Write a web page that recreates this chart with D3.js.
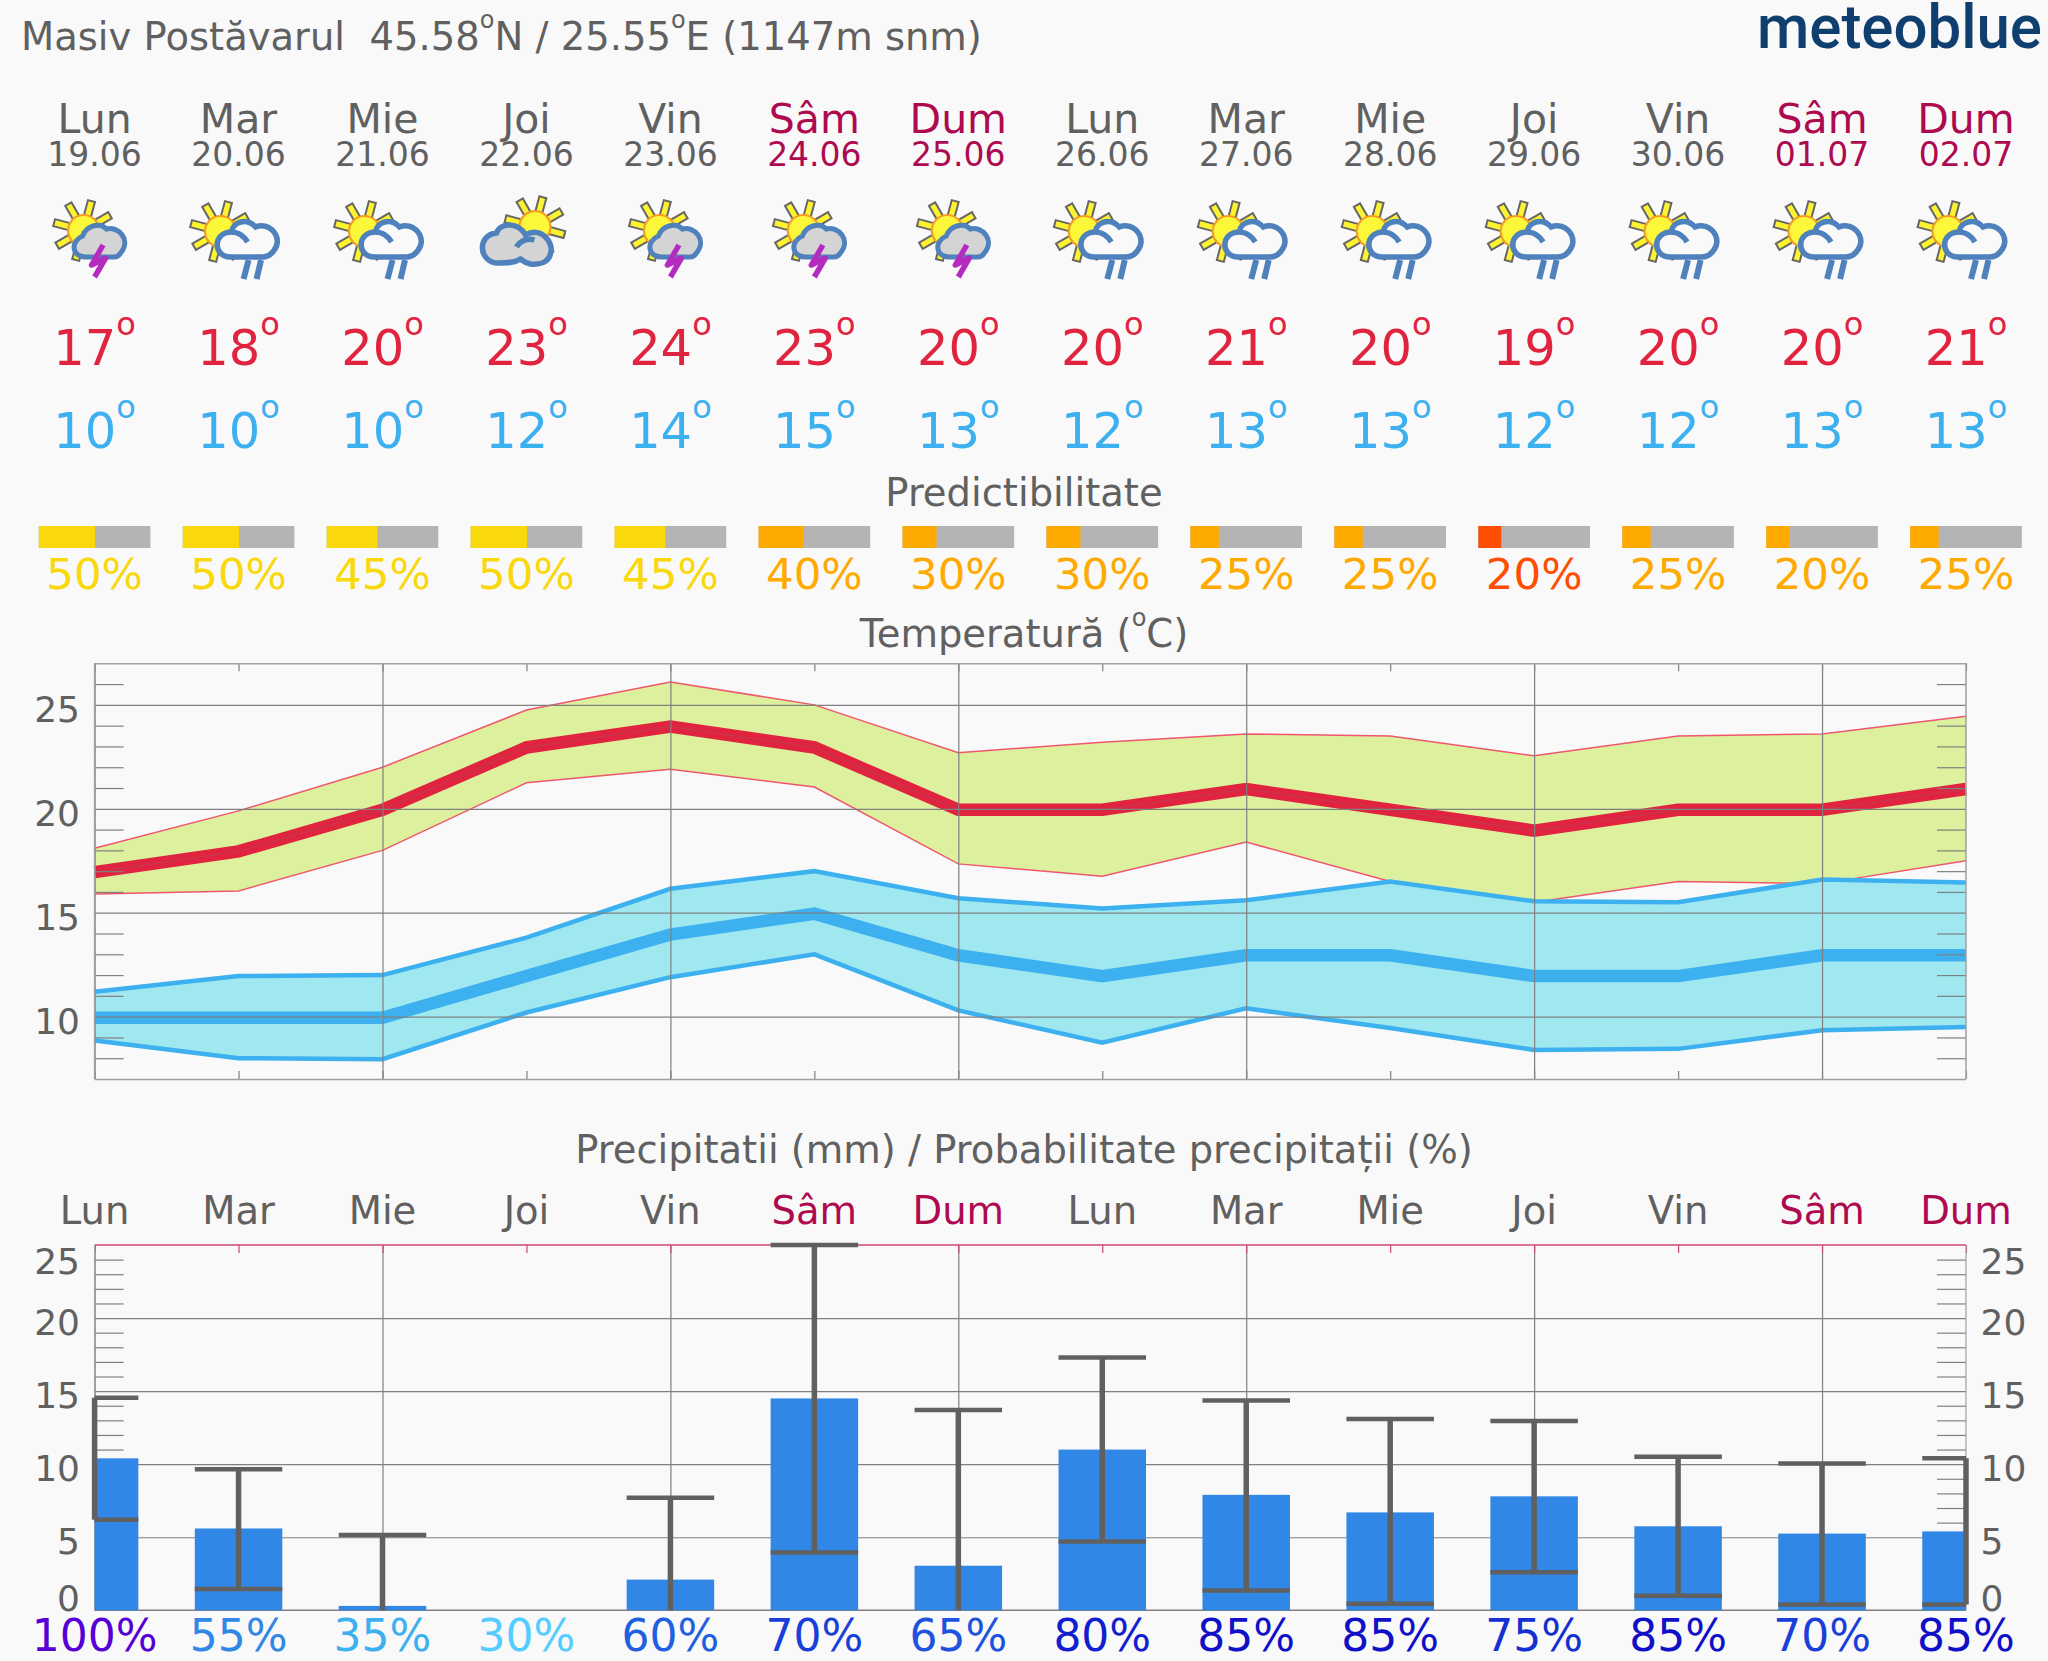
<!DOCTYPE html>
<html>
<head>
<meta charset="utf-8">
<script src="https://cdnjs.cloudflare.com/ajax/libs/d3/7.8.5/d3.min.js"></script>
<style>
  html, body { margin: 0; padding: 0; background: #f9f9f9; }
  svg { display: block; }
  text { font-family: 'DejaVu Sans', sans-serif; fill: #606060; white-space: pre; }
  .domain { display: none; }
</style>
</head>
<body>
<div id="chart"></div>
<script>
const width = 2048
const height = 1661

const days = ['Lun', 'Mar', 'Mie', 'Joi', 'Vin', 'Sâm', 'Dum', 'Lun', 'Mar', 'Mie', 'Joi', 'Vin', 'Sâm', 'Dum']
const dates = ['19.06', '20.06', '21.06', '22.06', '23.06', '24.06', '25.06', '26.06', '27.06', '28.06', '29.06', '30.06', '01.07', '02.07']
const icons = ['storm', 'rain', 'rain', 'cloudy', 'storm', 'storm', 'storm', 'rain', 'rain', 'rain', 'rain', 'rain', 'rain', 'rain']

const tempMax = [17, 18, 20, 23, 24, 23, 20, 20, 21, 20, 19, 20, 20, 21]
const tempMaxHigh = [18.1, 19.9, 22, 24.75, 26.1, 25, 22.7, 23.2, 23.6, 23.5, 22.55, 23.5, 23.6, 24.45]
const tempMaxLow = [15.9, 16.05, 18, 21.25, 21.9, 21.05, 17.35, 16.75, 18.4, 16.5, 15.5, 16.5, 16.4, 17.5]
const tempMin = [10, 10, 10, 12, 14, 15, 13, 12, 13, 13, 12, 12, 13, 13]
const tempMinHigh = [11.2, 11.95, 12, 13.8, 16.15, 17, 15.7, 15.2, 15.6, 16.5, 15.55, 15.5, 16.6, 16.45]
const tempMinLow = [8.85, 8, 7.95, 10.2, 11.9, 13, 10.3, 8.75, 10.4, 9.45, 8.4, 8.45, 9.35, 9.5]

const predict = [50, 50, 45, 50, 45, 40, 30, 30, 25, 25, 20, 25, 20, 25]
const predictColors = ['#f9d80c', '#f9d80c', '#f9d80c', '#f9d80c', '#f9d80c', '#ffaa00', '#ffaa00', '#ffaa00', '#ffaa00', '#ffaa00', '#ff4e00', '#ffaa00', '#ffaa00', '#ffaa00']

const rain = [10.4, 5.6, 0.3, 0, 2.1, 14.5, 3.05, 11, 7.9, 6.7, 7.8, 5.75, 5.25, 5.4]
const rainHigh = [14.55, 9.65, 5.15, null, 7.7, 25, 13.7, 17.3, 14.35, 13.1, 12.95, 10.5, 10.05, 10.4]
const rainLow = [6.2, 1.45, 0, null, 0, 3.95, 0, 4.7, 1.35, 0.45, 2.6, 1, 0.4, 0.4]
const rainProb = [100, 55, 35, 30, 60, 70, 65, 80, 85, 85, 75, 85, 70, 85]
const rainProbColors = ['#5500d5', '#3187e6', '#3cb0f0', '#55ccff', '#1f5fe0', '#1a3fd8', '#2052e0', '#1020d0', '#1010c8', '#1010c8', '#1530d0', '#1010c8', '#1a3fd8', '#1010c8']

const tempTicks = [10, 15, 20, 25]
const tempMinor = [8, 9, 11, 12, 13, 14, 16, 17, 18, 19, 21, 22, 23, 24, 26]
const rainTicks = [0, 5, 10, 15, 20, 25]
const rainGrid = [5, 10, 15, 20]
const rainMinor = [1, 2, 3, 4, 6, 7, 8, 9, 11, 12, 13, 14, 16, 17, 18, 19, 21, 22, 23, 24]

const grey = '#606060'
const weekend = '#ae0a4f'
const red = '#e0233f'
const blue = '#3db0f0'
const dayColor = i => (i === 5 || i === 6 || i === 12 || i === 13) ? weekend : grey

const left = 94.6
const right = 1966
const x = d3.scaleLinear().domain([0, 13]).range([left, right])
const indexes = days.map((d, i) => i)

const svg = d3.select('#chart')
  .append('svg')
  .attr('width', width)
  .attr('height', height)

svg.append('rect').attr('width', width).attr('height', height).attr('fill', '#f9f9f9')

// text with the raised small "o" they use as a degree sign
function degreeText(g, parts, size, oSize, raise) {
  parts.forEach((p, i) => {
    g.append('tspan').attr('font-size', size).attr('dy', i === 0 ? 0 : raise).text(p)
    if (i < parts.length - 1) {
      g.append('tspan').attr('font-size', oSize).attr('dy', -raise).text('o')
    }
  })
  return g
}

// header
degreeText(svg.append('text').attr('x', 21).attr('y', 50).attr('fill', grey),
  ['Masiv Postăvarul  45.58', 'N / 25.55', 'E (1147m snm)'], 38.5, 24, 22)

svg.append('text')
  .attr('x', 1757).attr('y', 47.5)
  .attr('textLength', 285).attr('lengthAdjust', 'spacingAndGlyphs')
  .style('font-family', 'Roboto').style('font-weight', 500).style('font-size', '62px')
  .style('fill', '#0f3f6f')
  .text('meteoblue')

function rowText(values, y, size, color) {
  svg.append('g').selectAll('text')
    .data(values)
    .enter().append('text')
    .attr('x', (d, i) => x(i))
    .attr('y', y)
    .attr('text-anchor', 'middle')
    .attr('font-size', size)
    .style('fill', color)
    .text(d => d)
}

rowText(days, 133, 41, (d, i) => dayColor(i))
rowText(dates, 166, 33, (d, i) => dayColor(i))

// icons, drawn around the day centre
const sunRays = [-165, -120, -75, -30, 15, 60, 105, 150]
const iconDefs = {
  rain: {
    sun: [-18, 231.5],
    cloud: 'M-8,257 C-26,257 -26,232 -7,232 C-6,222 8,217 17,227 C31,221 46,238 35,251 C32,255 28,257 24,257 Z',
    cloudFill: '#f9f9f9',
    hook: 'M-7,232 C0,232 6,237 9,242',
    width: 5.5
  },
  storm: {
    sun: [-11, 230.5],
    cloud: 'M-8,257 C-24,257 -24,241 -12,236 C-8,225 6,222 12,229 C24,226 37,240 26,253 C24,256 22,257 20,257 Z',
    cloudFill: '#d4d4d4',
    width: 5
  },
  cloudy: {
    sun: [8.5, 226.7],
    cloud: 'M-28,263 C-48,263 -50,235 -30,233 C-26,222 -8,222 -1,235 C14,226 28,242 24,254 C22,262 14,265 4,264 C-2,263 -4,260 -6,259 C-12,263 -20,263 -28,263 Z',
    cloudFill: '#d4d4d4',
    hook: 'M-10,247 C-6,240 2,238 8,240',
    width: 5.5
  }
}

const iconG = svg.append('g').selectAll('g')
  .data(icons)
  .enter().append('g')
  .attr('transform', (d, i) => `translate(${x(i)},0)`)

iconG.each(function(type) {
  const g = d3.select(this)
  const def = iconDefs[type]
  sunRays.forEach(a => {
    g.append('rect')
      .attr('x', 14).attr('y', -3.6).attr('width', 16.5).attr('height', 7.2)
      .attr('fill', '#fdf22f').attr('stroke', '#666').attr('stroke-width', 2)
      .attr('transform', `translate(${def.sun[0]},${def.sun[1]}) rotate(${a})`)
  })
  g.append('circle')
    .attr('cx', def.sun[0]).attr('cy', def.sun[1]).attr('r', 15.5)
    .attr('fill', '#fbf83a').attr('stroke', '#f59e25').attr('stroke-width', 2.2)
  g.append('path')
    .attr('d', def.cloud)
    .attr('fill', def.cloudFill).attr('stroke', '#4f82bd').attr('stroke-width', def.width)
  if (def.hook) {
    g.append('path').attr('d', def.hook).attr('fill', 'none')
      .attr('stroke', '#4f82bd').attr('stroke-width', def.width)
  }
  if (type === 'rain') {
    g.append('path').attr('d', 'M10,260 L5,279 M22.5,260 L18,279')
      .attr('fill', 'none').attr('stroke', '#4f82bd').attr('stroke-width', 6)
  }
  if (type === 'storm') {
    g.append('path').attr('d', 'M8.5,245 L-3,265 L11,258 L0,277')
      .attr('fill', 'none').attr('stroke', '#b52bc0').attr('stroke-width', 5.5)
      .attr('stroke-linejoin', 'round')
  }
})

// max / min numbers
function tempRow(values, y, color) {
  indexes.forEach(i => {
    const t = svg.append('text').attr('x', x(i)).attr('y', y)
      .attr('text-anchor', 'middle').style('fill', color)
    degreeText(t, [values[i], ''], 49.5, 32, 30)
  })
}
tempRow(tempMax, 365, red)
tempRow(tempMin, 448, blue)

// predictability
svg.append('text').attr('x', 1024).attr('y', 506).attr('text-anchor', 'middle')
  .attr('font-size', 38.5).text('Predictibilitate')

const barW = 111.6
const pctX = d3.scaleLinear().domain([0, 100]).range([0, barW])

svg.append('g').selectAll('rect')
  .data(predict)
  .enter().append('rect')
  .attr('x', (d, i) => x(i) - barW / 2)
  .attr('y', 526).attr('width', barW).attr('height', 22)
  .attr('fill', '#b4b4b4')

svg.append('g').selectAll('rect')
  .data(predict)
  .enter().append('rect')
  .attr('x', (d, i) => x(i) - barW / 2)
  .attr('y', 526).attr('width', d => pctX(d) + 0.5).attr('height', 22)
  .attr('fill', (d, i) => predictColors[i])

rowText(predict.map(d => d + '%'), 589, 43.5, (d, i) => predictColors[i])

// temperature chart
const tempTop = 663.3
const tempBottom = 1079
const yT = d3.scaleLinear().domain([7, 27]).range([tempBottom, tempTop])

degreeText(svg.append('text').attr('x', 1024).attr('y', 647).attr('text-anchor', 'middle'),
  ['Temperatură (', 'C)'], 38.5, 24, 21)

const area = d3.area().x((d, i) => x(i))
const line = d3.line().x((d, i) => x(i)).y(d => yT(d))

const band = (high, low, fill, stroke, sw) => {
  const pairs = high.map((h, i) => [h, low[i]])
  svg.append('path').datum(pairs)
    .attr('d', area.y0(d => yT(d[1])).y1(d => yT(d[0])))
    .attr('fill', fill)
  ;[high, low].forEach(s => {
    svg.append('path').datum(s).attr('d', line)
      .attr('fill', 'none').attr('stroke', stroke).attr('stroke-width', sw)
  })
}

band(tempMaxHigh, tempMaxLow, '#dcf09e', '#f0566c', 1.5)
band(tempMinHigh, tempMinLow, '#9fe8f0', blue, 4.5)

svg.append('path').datum(tempMax).attr('d', line)
  .attr('transform', 'translate(0,1)')
  .attr('fill', 'none').attr('stroke', red).attr('stroke-width', 12.5)
svg.append('path').datum(tempMin).attr('d', line)
  .attr('transform', 'translate(0,1)')
  .attr('fill', 'none').attr('stroke', blue).attr('stroke-width', 12.5)
svg.append('path').datum(tempMax).attr('d', line)
  .attr('transform', 'translate(0,1)')
  .attr('fill', 'none').attr('stroke', '#777').attr('stroke-opacity', 0.3).attr('stroke-width', 1)

function frameAxes(yScale, top, bottom, major, minor, tickColor) {
  const g = svg.append('g')
  const plotW = right - left
  const plotH = bottom - top

  g.append('g').attr('transform', `translate(${left},0)`)
    .call(d3.axisLeft(yScale).tickValues(major).tickSize(-plotW).tickFormat(''))
  g.append('g').attr('transform', `translate(${left},0)`)
    .call(d3.axisLeft(yScale).tickValues(minor).tickSize(-29).tickFormat(''))
  g.append('g').attr('transform', `translate(${right},0)`)
    .call(d3.axisRight(yScale).tickValues(minor).tickSize(-29).tickFormat(''))
  g.append('g').attr('transform', `translate(0,${bottom})`)
    .call(d3.axisBottom(x).tickValues(indexes.filter(i => i % 2 === 0)).tickSize(-plotH).tickFormat(''))
  g.append('g').attr('class', 'topTicks').attr('transform', `translate(0,${top})`)
    .call(d3.axisTop(x).tickValues(indexes).tickSize(-8).tickFormat(''))
    .selectAll('line').attr('stroke', tickColor)
  g.selectAll('line').filter(function() {
    return this.getAttribute('stroke') === 'currentColor'
  }).attr('stroke', '#808080').attr('stroke-width', 1.2)
  g.select('.topTicks').selectAll('line').attr('stroke-width', 1.2)
  return g
}

const tempFrame = frameAxes(yT, tempTop, tempBottom, tempTicks, tempMinor, '#808080')
tempFrame.append('g').attr('transform', `translate(0,${tempBottom})`)
  .call(d3.axisBottom(x).tickValues(indexes).tickSize(-8).tickFormat(''))
  .selectAll('line').attr('stroke', '#808080').attr('stroke-width', 1.2)
tempFrame.append('g').attr('transform', `translate(${left},0)`)
  .call(d3.axisLeft(yT).tickValues([7, 27]).tickSize(left - right).tickFormat(''))
  .selectAll('line').attr('stroke', '#a0a0a0').attr('stroke-width', 1.5)
;[left, right].forEach(px => {
  tempFrame.append('line').attr('x1', px).attr('x2', px)
    .attr('y1', tempTop).attr('y2', tempBottom)
    .attr('stroke', '#a0a0a0').attr('stroke-width', 1.5)
})

svg.append('g').attr('transform', `translate(${left},0)`)
  .call(d3.axisLeft(yT).tickValues(tempTicks).tickSize(0).tickPadding(14.6))
  .selectAll('text')
  .attr('dy', 0).attr('y', 16.7).attr('font-size', 36).attr('font-family', null)
  .style('font-family', "'DejaVu Sans'").style('fill', grey)

// precipitation chart
const rainTop = 1245
const rainBottom = 1610.3
const yR = d3.scaleLinear().domain([0, 25]).range([rainBottom, rainTop])

svg.append('text').attr('x', 1024).attr('y', 1163).attr('text-anchor', 'middle')
  .attr('font-size', 38.5).text('Precipitatii (mm) / Probabilitate precipitații (%)')

rowText(days, 1223.5, 38.5, (d, i) => dayColor(i))

frameAxes(yR, rainTop, rainBottom, rainGrid, rainMinor, '#d0457a')

svg.append('line').attr('x1', left).attr('x2', right).attr('y1', rainTop).attr('y2', rainTop)
  .attr('stroke', '#d0457a').attr('stroke-width', 1.5)
svg.append('line').attr('x1', left).attr('x2', right).attr('y1', rainBottom).attr('y2', rainBottom)
  .attr('stroke', '#808080').attr('stroke-width', 1.5)
;[left, right].forEach(px => {
  svg.append('line').attr('x1', px).attr('x2', px).attr('y1', rainTop).attr('y2', rainBottom)
    .attr('stroke', '#a0a0a0').attr('stroke-width', 1.2)
})

const rainW = 87.5
const clampL = i => Math.max(x(i) - rainW / 2, left)
const clampR = i => Math.min(x(i) + rainW / 2, right)

svg.append('g').selectAll('rect')
  .data(rain)
  .enter().append('rect')
  .attr('x', (d, i) => clampL(i))
  .attr('y', d => yR(d))
  .attr('width', (d, i) => clampR(i) - clampL(i))
  .attr('height', d => yR(0) - yR(d))
  .attr('fill', '#3187e6')

const errG = svg.append('g').attr('stroke', grey).attr('fill', 'none')
indexes.filter(i => rainHigh[i] !== null).forEach(i => {
  errG.append('line').attr('x1', x(i)).attr('x2', x(i))
    .attr('y1', yR(rainHigh[i])).attr('y2', yR(rainLow[i]))
    .attr('stroke-width', 5.5)
  errG.append('line').attr('x1', clampL(i)).attr('x2', clampR(i))
    .attr('y1', yR(rainHigh[i])).attr('y2', yR(rainHigh[i]))
    .attr('stroke-width', 4.5)
  if (rainLow[i] > 0) {
    errG.append('line').attr('x1', clampL(i)).attr('x2', clampR(i))
      .attr('y1', yR(rainLow[i])).attr('y2', yR(rainLow[i]))
      .attr('stroke-width', 4.5)
  }
})

// 0 and 25 are pushed inside so they don't hit the rows around them
const labelShift = d => d === 0 ? 0 : d === 25 ? 28.6 : 16.3

svg.append('g').attr('transform', `translate(${left},0)`)
  .call(d3.axisLeft(yR).tickValues(rainTicks).tickSize(0).tickPadding(14.6))
  .selectAll('text')
  .attr('dy', 0).attr('y', labelShift).attr('font-size', 36)
  .style('font-family', "'DejaVu Sans'").style('fill', grey)

svg.append('g').attr('transform', `translate(${right},0)`)
  .call(d3.axisRight(yR).tickValues(rainTicks).tickSize(0).tickPadding(14.6))
  .selectAll('text')
  .attr('dy', 0).attr('y', labelShift).attr('font-size', 36)
  .style('font-family', "'DejaVu Sans'").style('fill', grey)

rowText(rainProb.map(d => d + '%'), 1651, 44, (d, i) => rainProbColors[i])
</script>
</body>
</html>
